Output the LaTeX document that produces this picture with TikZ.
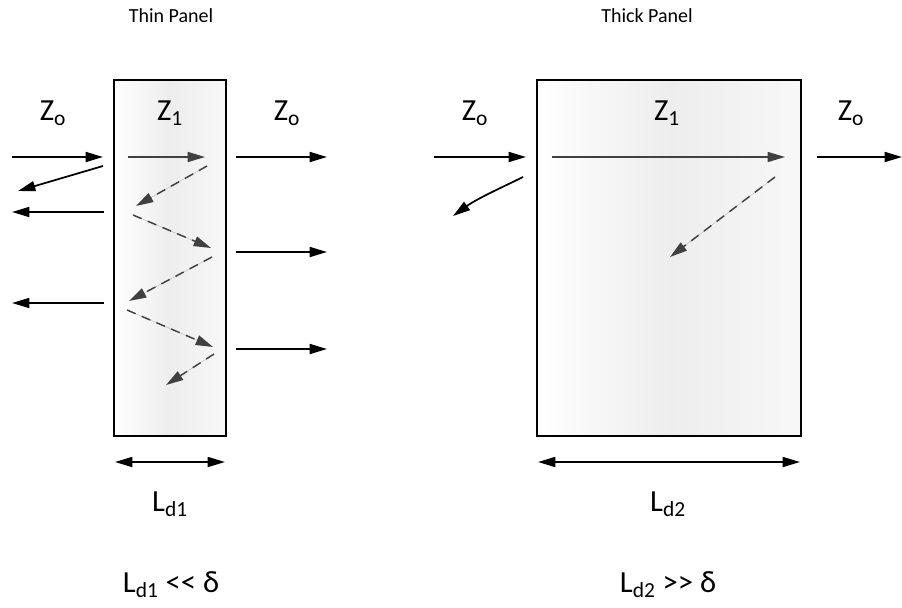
\documentclass[tikz,border=0pt]{standalone}
\usepackage{fontspec}
\setmainfont{Carlito}
\usetikzlibrary{arrows.meta}
\definecolor{raygray}{HTML}{404040}
\begin{document}
\begin{tikzpicture}[x=0.75pt,y=-0.75pt,>={Triangle[length=13pt,width=7.5pt]}]
  \useasboundingbox (0,0) rectangle (902,607);
  \tikzset{
    wave/.style={->,line width=1.3pt},
    ray/.style={->,line width=1.1pt,draw=raygray,fill=raygray},
    echo/.style={ray,dash pattern=on 7pt off 5pt},
    panel/.style={draw,line width=1.3pt,left color=white,right color=white!97!black,middle color=black!7},
    lbl/.style={font=\fontsize{23}{26}\selectfont},
    ttl/.style={font=\fontsize{15}{17}\selectfont}
  }

  % panneau mince
  \draw[panel] (114,80) rectangle (226,436);
  \node[ttl] at (171,16) {Thin Panel};
  \node[lbl] at (53,113) {Z\textsubscript{o}};
  \node[lbl] at (170,113) {Z\textsubscript{1}};
  \node[lbl] at (287,113) {Z\textsubscript{o}};

  % ondes extérieures
  \draw[wave] (12,157) -- (103,157);
  \draw[wave] (103,166) -- (18,191);
  \draw[wave] (104,212) -- (12,212);
  \draw[wave] (104,303) -- (12,303);
  \draw[wave] (236,157) -- (327,157);
  \draw[wave] (236,252) -- (327,252);
  \draw[wave] (236,349) -- (327,349);

  % réflexions internes
  \draw[ray] (128,157) -- (205,157);
  \draw[echo] (207,166) -- (136,206);
  \draw[echo] (133,215) -- (211,248);
  \draw[echo] (212,257) -- (129,301);
  \draw[echo] (127,310) -- (213,347);
  \draw[echo] (214,354) -- (166,385);

  % cote
  \draw[<->,line width=1.3pt] (115,462) -- (225,462);
  \node[lbl] at (170,504) {L\textsubscript{d1}};
  \node[lbl] at (171,585) {L\textsubscript{d1} <{}< δ};

  % panneau épais
  \draw[panel] (537,80) rectangle (801,436);
  \node[ttl] at (647,16) {Thick Panel};
  \node[lbl] at (475,113) {Z\textsubscript{o}};
  \node[lbl] at (667,113) {Z\textsubscript{1}};
  \node[lbl] at (851,113) {Z\textsubscript{o}};

  \draw[wave] (434,157) -- (526,157);
  \draw[wave] (523,177) .. controls (505,186) and (478,198) .. (453,216);
  \draw[wave] (817,157) -- (902,157);
  \draw[ray] (552,157) -- (785,157);
  \draw[echo] (775,177) -- (670,257);

  \draw[<->,line width=1.3pt] (538,462) -- (800,462);
  \node[lbl] at (668,504) {L\textsubscript{d2}};
  \node[lbl] at (668,585) {L\textsubscript{d2} >{}> δ};
\end{tikzpicture}
\end{document}
